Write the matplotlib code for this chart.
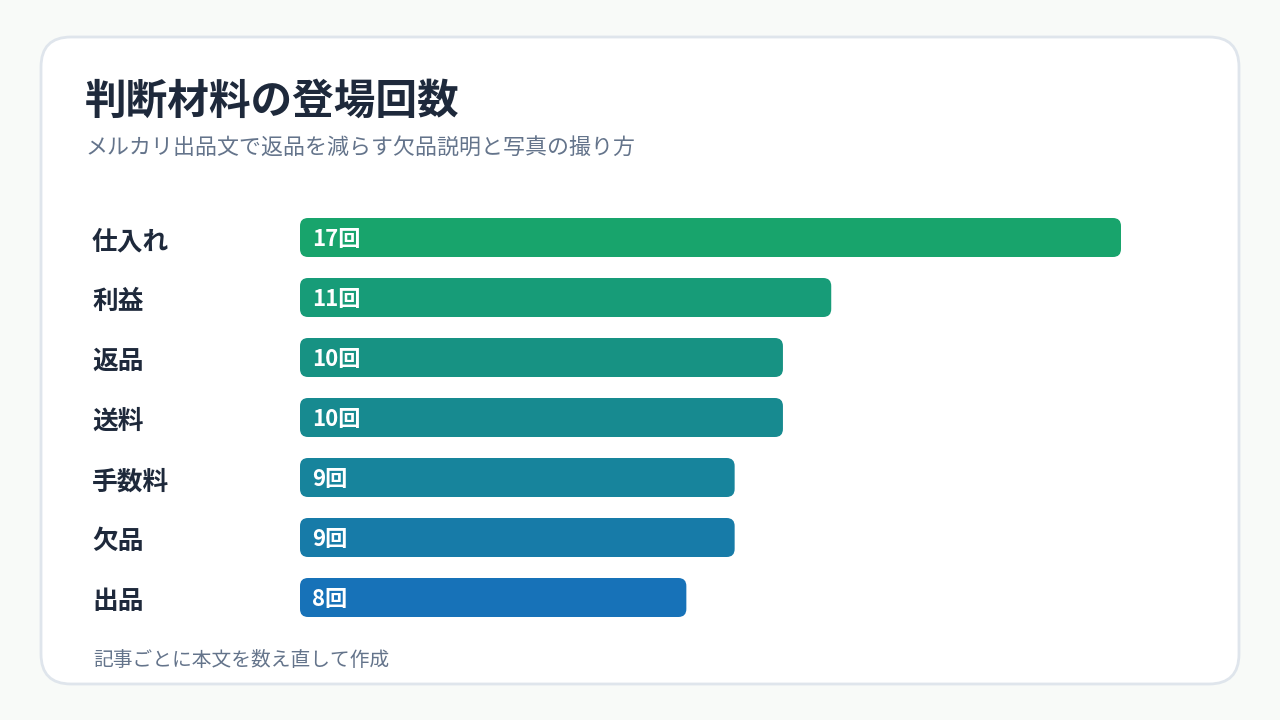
import matplotlib
matplotlib.use("Agg")
import matplotlib.pyplot as plt
from matplotlib.patches import FancyBboxPatch
from matplotlib.transforms import blended_transform_factory

plt.rcParams['font.family'] = ['Noto Sans CJK JP', 'DejaVu Sans']

title = "判断材料の登場回数"
subtitle = "メルカリ出品文で返品を減らす欠品説明と写真の撮り方"
footer = "記事ごとに本文を数え直して作成"
categories = ["仕入れ", "利益", "返品", "送料", "手数料", "欠品", "出品"]
values = [17, 11, 10, 10, 9, 9, 8]
unit = "回"
bar_colors = ["#18a46c", "#179c78", "#179283", "#178a90", "#17849c", "#177ba8", "#1772b8"]

W, H = 1280, 720
fig = plt.figure(figsize=(W / 100, H / 100), dpi=100)
fig.patch.set_facecolor("#f8faf8")

bg = fig.add_axes([0, 0, 1, 1])
bg.set_xlim(0, W)
bg.set_ylim(H, 0)
bg.axis("off")
card = FancyBboxPatch((41, 37), 1198, 647, boxstyle="round,pad=0,rounding_size=30",
                      facecolor="white", edgecolor="#dfe5ec", linewidth=2)
bg.add_patch(card)
bg.text(85, 102, title, fontsize=30, fontweight="bold", color="#1e293b", va="center", ha="left")
bg.text(86, 148, subtitle, fontsize=15.8, color="#64748b", va="center", ha="left")
bg.text(93, 661, footer, fontsize=14.2, color="#64748b", va="center", ha="left")

# bar axes: x 0..17 -> 300..1121 px, rows 60 px apart starting at 237.5
px_per_unit = 821 / 17
ax = fig.add_axes([300 / W, (H - 627.5) / H, 821 / W, 420 / H])
ax.set_xlim(0, 17)
ax.set_ylim(len(categories) - 0.5, -0.5)
ax.axis("off")
ax.patch.set_alpha(0)

bar_h = 39 / 60
rx = 8 / px_per_unit
aspect = (1 / 60) / (1 / px_per_unit)
trans_lbl = blended_transform_factory(fig.transFigure, ax.transData)
for i, (cat, v, c) in enumerate(zip(categories, values, bar_colors)):
    p = FancyBboxPatch((0, i - bar_h / 2), v, bar_h,
                       boxstyle=f"round,pad=0,rounding_size={rx}",
                       mutation_aspect=aspect, facecolor=c, edgecolor="none")
    ax.add_patch(p)
    ax.text(12 / px_per_unit, i + 0.03, f"{v}{unit}", color="white", fontsize=16, fontweight="bold",
            va="center", ha="left")
    ax.text(92 / W, i + 0.07, cat, transform=trans_lbl, fontsize=18.5, fontweight="bold",
            color="#1e293b", va="center", ha="left")

fig.savefig("out.png", dpi=100, facecolor=fig.get_facecolor())
